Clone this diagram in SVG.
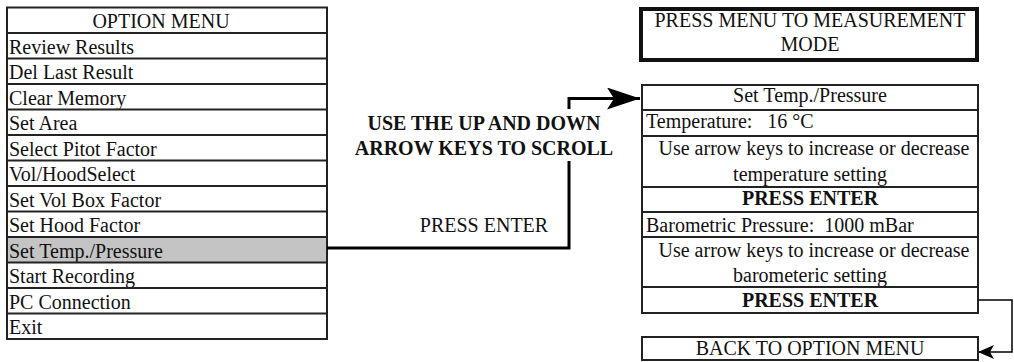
<svg xmlns="http://www.w3.org/2000/svg" width="1014" height="362" viewBox="0 0 1014 362">
<defs>
<style>
.t{font-size:20px;fill:#111}
.b{font-weight:bold}
.c{text-anchor:middle}
.cell{fill:none;stroke:#222;stroke-width:2}
.bg{fill:#fff}
.sel{fill:#c4c4c4}
.conn{fill:none;stroke:#000}
</style>
<marker id="big" viewBox="0 0 33 22" refX="33" refY="11" markerWidth="33" markerHeight="22" markerUnits="userSpaceOnUse" orient="auto"><path d="M0,0 L33,11 L0,22 L7,11 Z" fill="#000"/></marker>
<marker id="small" viewBox="0 0 16 14" refX="16" refY="7" markerWidth="16" markerHeight="14" markerUnits="userSpaceOnUse" orient="auto"><path d="M0,0 L16,7 L0,14 L4,7 Z" fill="#000"/></marker>
</defs>
<rect width="1014" height="362" fill="#fff"/>
<g id="option-menu" font-family="'Liberation Serif', Tinos, 'Times New Roman', 'DejaVu Serif', serif">
<rect class="sel" x="7" y="237" width="320" height="25.5"/>
<text class="t c" x="161" y="28">OPTION MENU</text>
<text class="t" x="9" y="53.5">Review Results</text>
<text class="t" x="9" y="79">Del Last Result</text>
<text class="t" x="9" y="104.5">Clear Memory</text>
<text class="t" x="9" y="130">Set Area</text>
<text class="t" x="9" y="155.5">Select Pitot Factor</text>
<text class="t" x="9" y="181">Vol/HoodSelect</text>
<text class="t" x="9" y="206.5">Set Vol Box Factor</text>
<text class="t" x="9" y="232">Set Hood Factor</text>
<text class="t" x="9" y="257.5">Set Temp./Pressure</text>
<text class="t" x="9" y="283">Start Recording</text>
<text class="t" x="9" y="308.5">PC Connection</text>
<text class="t" x="9" y="334">Exit</text>
<rect class="cell" x="7" y="7.5" width="320" height="331.5"/>
<path class="cell" d="M7,33 H327 M7,58.5 H327 M7,84 H327 M7,109.5 H327 M7,135 H327 M7,160.5 H327 M7,186 H327 M7,211.5 H327 M7,237 H327 M7,262.5 H327 M7,288 H327 M7,313.5 H327"/>
</g>
<g id="connectors">
<path class="conn" stroke-width="3" d="M327,248 H569 V161"/>
<path class="conn" stroke-width="3" d="M569,109 V98.5 H640" marker-end="url(#big)"/>
<path class="conn" stroke-width="1.5" d="M978,300 H1012 V352 H978" marker-end="url(#small)"/>
</g>
<g id="scroll-label" font-family="'Liberation Serif', Tinos, 'Times New Roman', 'DejaVu Serif', serif">
<text class="t b c" x="484" y="130">USE THE UP AND DOWN</text>
<text class="t b c" x="484" y="155">ARROW KEYS TO SCROLL</text>
</g>
<g id="press-enter-label" font-family="'Liberation Serif', Tinos, 'Times New Roman', 'DejaVu Serif', serif">
<text class="t c" x="484" y="232">PRESS ENTER</text>
</g>
<g id="measurement-mode" font-family="'Liberation Serif', Tinos, 'Times New Roman', 'DejaVu Serif', serif">
<rect x="641" y="9" width="336" height="51" fill="#fff" stroke="#111" stroke-width="4"/>
<text class="t c" x="810" y="27">PRESS MENU TO MEASUREMENT</text>
<text class="t c" x="810" y="51">MODE</text>
</g>
<g id="temp-pressure" font-family="'Liberation Serif', Tinos, 'Times New Roman', 'DejaVu Serif', serif">
<rect class="bg" x="642" y="85" width="336" height="228"/>
<text class="t c" x="810" y="102">Set Temp./Pressure</text>
<text class="t" x="646" y="128" xml:space="preserve">Temperature:   16 °C</text>
<text class="t c" x="814" y="155">Use arrow keys to increase or decrease</text>
<text class="t c" x="810" y="181">temperature setting</text>
<text class="t b c" x="810" y="205">PRESS ENTER</text>
<text class="t" x="646" y="232" xml:space="preserve">Barometric Pressure:  1000 mBar</text>
<text class="t c" x="814" y="257">Use arrow keys to increase or decrease</text>
<text class="t c" x="810" y="282">barometeric setting</text>
<text class="t b c" x="810" y="307">PRESS ENTER</text>
<rect class="cell" x="642" y="85" width="336" height="228"/>
<path class="cell" d="M642,110 H978 M642,136 H978 M642,187 H978 M642,212 H978 M642,237 H978 M642,287 H978"/>
</g>
<g id="back-to-option-menu" font-family="'Liberation Serif', Tinos, 'Times New Roman', 'DejaVu Serif', serif">
<rect class="cell" x="642" y="337" width="336" height="23"/>
<text class="t c" x="810" y="355">BACK TO OPTION MENU</text>
</g>
</svg>
